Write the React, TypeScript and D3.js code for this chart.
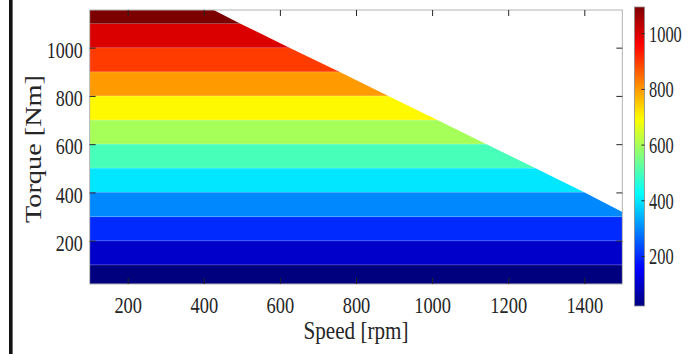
import { area, axisBottom, axisLeft, axisRight, axisTop, range, scaleLinear, select } from "d3";
import { useEffect, useRef } from "react";

// max torque envelope (rpm, Nm)
const envelopeSpeed = [100, 426, 495, 625, 756, 885, 1014, 1143, 1272, 1401, 1500];
const envelopeTorque = [1156, 1156, 1100, 1000, 900, 800, 700, 600, 500, 400, 319];

// contourf levels (lower bound of each filled band)
const levels = [20, 100, 200, 300, 400, 500, 600, 700, 800, 900, 1000, 1100];

const speedTicks = [200, 400, 600, 800, 1000, 1200, 1400];
const torqueTicks = [200, 400, 600, 800, 1000];
const colorbarTicks = [200, 400, 600, 800, 1000];

const W = 696;
const H = 354;
const FONT = "'Liberation Serif', 'Times New Roman', serif";

function jet(t: number) {
  const c = (v: number) => Math.max(0, Math.min(1, v));
  const r = c(Math.min(4 * t - 1.5, -4 * t + 4.5));
  const g = c(Math.min(4 * t - 0.5, -4 * t + 3.5));
  const b = c(Math.min(4 * t + 0.5, -4 * t + 2.5));
  return `rgb(${Math.round(r * 255)},${Math.round(g * 255)},${Math.round(b * 255)})`;
}

export default function App() {
  const svgRef = useRef<SVGSVGElement | null>(null);

  useEffect(() => {
    if (!svgRef.current) return;
    const svg = select(svgRef.current);
    svg.selectAll("*").remove();

    const plot = { left: 89.65, right: 622.35, top: 10, bottom: 284 };
    const x = scaleLinear().domain([100, 1500]).range([plot.left, plot.right]);
    const y = scaleLinear().domain([20.5, 1156]).range([plot.bottom, plot.top]);
    const cmin = 22;
    const cmax = 1096;
    const norm = scaleLinear().domain([cmin, cmax]).range([0, 1]);
    const cbar = scaleLinear().domain([cmin, cmax]).range([306, 7]);
    const fmt = (d: any) => String(d);

    // left black frame line
    svg.append("rect").attr("x", 9).attr("y", 0).attr("width", 3.6).attr("height", H).attr("fill", "#111");

    const defs = svg.append("defs");
    const envelope = envelopeSpeed.map((s, i) => ({ s, t: envelopeTorque[i] }));
    const envArea = area<{ s: number; t: number }>()
      .x((d) => x(d.s))
      .y0(y(20.5))
      .y1((d) => y(d.t));
    defs.append("clipPath").attr("id", "env").append("path").attr("d", envArea(envelope) ?? "");

    const grad = defs
      .append("linearGradient")
      .attr("id", "jet")
      .attr("x1", 0)
      .attr("y1", 1)
      .attr("x2", 0)
      .attr("y2", 0);
    range(0, 1.0001, 0.02).forEach((t) => {
      grad.append("stop").attr("offset", t).attr("stop-color", jet(t));
    });

    const bands = svg.append("g").attr("clip-path", "url(#env)");
    levels.forEach((lo, i) => {
      const hi = i < levels.length - 1 ? levels[i + 1] : 1156;
      bands
        .append("rect")
        .attr("x", plot.left)
        .attr("y", y(hi))
        .attr("width", plot.right - plot.left)
        .attr("height", y(lo) - y(hi))
        .attr("fill", jet(norm(lo)))
        .attr("shape-rendering", "crispEdges");
    });
    levels.slice(1).forEach((lv) => {
      bands
        .append("line")
        .attr("x1", plot.left)
        .attr("x2", plot.right)
        .attr("y1", y(lv))
        .attr("y2", y(lv))
        .attr("stroke", "#fff")
        .attr("stroke-opacity", 0.28)
        .attr("stroke-width", 1);
    });

    // box
    svg
      .append("rect")
      .attr("x", plot.left)
      .attr("y", plot.top)
      .attr("width", plot.right - plot.left)
      .attr("height", plot.bottom - plot.top)
      .attr("fill", "none")
      .attr("stroke", "#b3b3b3")
      .attr("stroke-width", 1);

    const tickColor = "#262626";
    const styleAxis = (g: any) => {
      g.select(".domain").remove();
      g.selectAll("line").attr("stroke", tickColor).attr("stroke-width", 1);
    };

    const xb = svg
      .append("g")
      .attr("transform", `translate(0,${plot.bottom})`)
      .call(axisBottom(x).tickValues(speedTicks).tickSizeInner(-6).tickSizeOuter(0).tickFormat(fmt))
      .call(styleAxis);
    xb.selectAll("text")
      .attr("y", 29.3)
      .attr("dy", 0)
      .attr("font-family", FONT)
      .attr("font-size", 23.5)
      .attr("fill", tickColor)
      .attr("textLength", (d: any) => String(d).length * 9.2)
      .attr("lengthAdjust", "spacingAndGlyphs");

    svg
      .append("g")
      .attr("transform", `translate(0,${plot.top})`)
      .call(axisTop(x).tickValues(speedTicks).tickSizeInner(-6).tickSizeOuter(0).tickFormat(() => ""))
      .call(styleAxis);

    const yl = svg
      .append("g")
      .attr("transform", `translate(${plot.left},0)`)
      .call(axisLeft(y).tickValues(torqueTicks).tickSizeInner(-6).tickSizeOuter(0).tickFormat(fmt))
      .call(styleAxis);
    yl.selectAll("text")
      .attr("x", -7)
      .attr("y", 9.6)
      .attr("dy", 0)
      .attr("text-anchor", "end")
      .attr("font-family", FONT)
      .attr("font-size", 23.5)
      .attr("fill", tickColor)
      .attr("textLength", (d: any) => String(d).length * 9)
      .attr("lengthAdjust", "spacingAndGlyphs");

    svg
      .append("g")
      .attr("transform", `translate(${plot.right},0)`)
      .call(axisRight(y).tickValues(torqueTicks).tickSizeInner(-6).tickSizeOuter(0).tickFormat(() => ""))
      .call(styleAxis);

    // axis titles
    svg
      .append("text")
      .attr("x", (plot.left + plot.right) / 2)
      .attr("y", 338.5)
      .attr("text-anchor", "middle")
      .attr("font-family", FONT)
      .attr("font-size", 25)
      .attr("fill", tickColor)
      .attr("textLength", 105)
      .attr("lengthAdjust", "spacingAndGlyphs")
      .text("Speed [rpm]");

    svg
      .append("text")
      .attr("transform", `translate(40.7,149) rotate(-90) scale(1,0.85)`)
      .attr("text-anchor", "middle")
      .attr("font-family", FONT)
      .attr("font-size", 28)
      .attr("fill", tickColor)
      .attr("textLength", 148)
      .attr("lengthAdjust", "spacingAndGlyphs")
      .text("Torque [Nm]");

    // colorbar
    const cb = { x: 634.5, w: 10 };
    svg
      .append("rect")
      .attr("x", cb.x)
      .attr("y", cbar(cmax))
      .attr("width", cb.w)
      .attr("height", cbar(cmin) - cbar(cmax))
      .attr("fill", "url(#jet)")
      .attr("stroke", "#8c8c8c")
      .attr("stroke-width", 0.8);
    const cbTicks = svg.append("g");
    colorbarTicks.forEach((v) => {
      cbTicks
        .append("line")
        .attr("x1", cb.x + cb.w)
        .attr("x2", cb.x + cb.w - 3)
        .attr("y1", cbar(v))
        .attr("y2", cbar(v))
        .attr("stroke", tickColor);
      cbTicks
        .append("text")
        .attr("x", 649)
        .attr("y", cbar(v) + 8)
        .attr("font-family", FONT)
        .attr("font-size", 22.5)
        .attr("fill", tickColor)
        .attr("textLength", String(v).length * 8.2)
        .attr("lengthAdjust", "spacingAndGlyphs")
        .text(String(v));
    });
  }, []);

  return (
    <svg
      ref={svgRef}
      width={W}
      height={H}
      viewBox={`0 0 ${W} ${H}`}
      style={{ position: "absolute", left: 0, top: 0, background: "#fff" }}
      role="img"
      aria-label="Torque speed contour map"
    />
  );
}
